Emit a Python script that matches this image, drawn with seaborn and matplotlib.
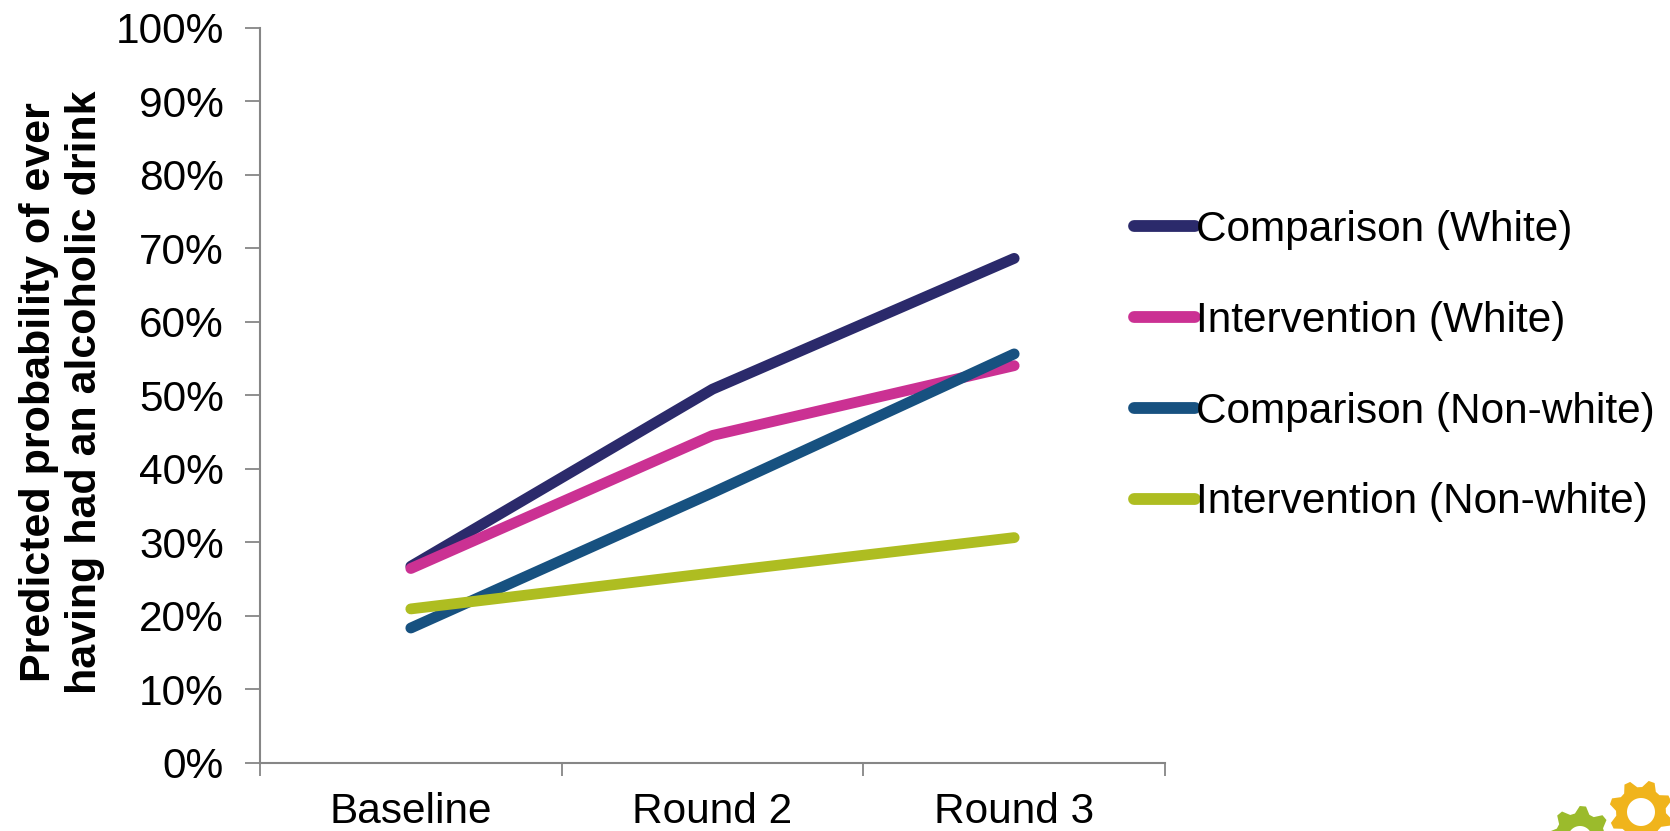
import numpy as np
import pandas as pd
import matplotlib
matplotlib.use("Agg")
import matplotlib.pyplot as plt
import seaborn as sns
from matplotlib.ticker import PercentFormatter, FixedLocator
from matplotlib.path import Path
from matplotlib.patches import PathPatch

# --- data -------------------------------------------------------------
rounds = ["Baseline", "Round 2", "Round 3"]
series_names = [
    "Comparison (White)",
    "Intervention (White)",
    "Comparison (Non-white)",
    "Intervention (Non-white)",
]
comparison_white = [26.7, 50.8, 68.6]
intervention_white = [26.4, 44.5, 54.0]
comparison_nonwhite = [18.3, 36.7, 55.6]
intervention_nonwhite = [20.9, 25.8, 30.6]
series_colors = ["#2B2A6B", "#CB3193", "#175180", "#AEBD21"]

y_label = "Predicted probability of ever\nhaving had an alcoholic drink"

frames = []
for name, vals in zip(series_names, [comparison_white, intervention_white,
                                     comparison_nonwhite, intervention_nonwhite]):
    frames.append(pd.DataFrame({"round": rounds, "prob": vals, "group": name}))
df = pd.concat(frames, ignore_index=True)

# --- style ------------------------------------------------------------
sns.set_style("white")
plt.rcParams["font.family"] = ["Liberation Sans", "DejaVu Sans"]
plt.rcParams["text.color"] = "black"
plt.rcParams["xtick.color"] = "black"
plt.rcParams["ytick.color"] = "black"

W, H = 1670, 831
fig = plt.figure(figsize=(W / 100, H / 100), dpi=100)
ax_left, ax_right, ax_top, ax_bottom = 260, 1165, 27.6, 762.5
ax = fig.add_axes([ax_left / W, 1 - ax_bottom / H,
                   (ax_right - ax_left) / W, (ax_bottom - ax_top) / H])

sns.lineplot(data=df, x="round", y="prob", hue="group", hue_order=series_names,
             palette=series_colors, sort=False, linewidth=7.8,
             solid_capstyle="round", ax=ax)

for line in ax.get_lines():
    line.set_solid_capstyle("round")

axis_gray = "#868686"
ax.set_xlim(-0.5, 2.5)
ax.set_ylim(0, 100)
ax.yaxis.set_major_locator(FixedLocator(np.arange(0, 101, 10)))
ax.yaxis.set_major_formatter(PercentFormatter(100, decimals=0))
ax.set_xticks(range(len(rounds)))
ax.set_xticklabels(rounds)
ax.xaxis.set_minor_locator(FixedLocator([-0.5, 0.5, 1.5, 2.5]))

for side in ["top", "right"]:
    ax.spines[side].set_visible(False)
for side in ["left", "bottom"]:
    ax.spines[side].set_color(axis_gray)
    ax.spines[side].set_linewidth(1.5)

ax.tick_params(axis="y", which="major", direction="out", length=11, width=1.3,
               color=axis_gray, labelcolor="black", labelsize=30.5, pad=15,
               left=True)
ax.tick_params(axis="x", which="major", length=0, labelsize=30.5, pad=21,
               labelcolor="black")
ax.tick_params(axis="x", which="minor", direction="out", length=9, width=1.3,
               color=axis_gray, bottom=True)
ax.set_xlabel("")
ax.set_ylabel("")

fig.text(62 / W, 1 - 392 / H, y_label, rotation=90, ha="center", va="center",
         multialignment="center", fontsize=31, fontweight="bold", color="black")

# legend on the right
handles, labels = ax.get_legend_handles_labels()
for h in handles:
    h.set_linewidth(8.5)
    h.set_solid_capstyle("round")
leg = ax.legend(handles, labels, loc="upper left",
                bbox_to_anchor=(1134 / W, 1 - 210 / H),
                bbox_transform=fig.transFigure, frameon=False, fontsize=30.5,
                handlelength=1.45, handletextpad=0.02, labelspacing=1.2,
                borderpad=0, borderaxespad=0)
for t in leg.get_texts():
    t.set_color("black")

# small gear emblem in the lower right corner
def gear_path(cx, cy, r_out, r_root, r_hole, teeth, phase=0.0):
    pts = []
    n = teeth * 4
    for k in range(n):
        a0 = phase + 2 * np.pi * k / n
        r = r_out if (k % 4 in (1, 2)) else r_root
        pts.append((cx + r * np.cos(a0), cy + r * np.sin(a0)))
    pts.append(pts[0])
    outer = np.array(pts)
    t = np.linspace(0, 2 * np.pi, 60)[::-1]
    hole = np.column_stack([cx + r_hole * np.cos(t), cy + r_hole * np.sin(t)])
    verts = np.vstack([outer, hole])
    codes = ([Path.MOVETO] + [Path.LINETO] * (len(outer) - 2) + [Path.CLOSEPOLY]
             + [Path.MOVETO] + [Path.LINETO] * (len(hole) - 2) + [Path.CLOSEPOLY])
    return Path(verts, codes)

for cx, cy, ro, rr, rh, col, ph in [(1641, 812, 32, 25, 14, "#F0B41C", 0.15),
                                    (1580, 838, 32, 25, 12, "#9BBB2C", 0.4)]:
    p = gear_path(cx, H - cy, ro, rr, rh, 8, ph)
    fig.patches.append(PathPatch(p, transform=None, facecolor=col,
                                 edgecolor="none", figure=fig))

fig.savefig("out.png", dpi=100)
